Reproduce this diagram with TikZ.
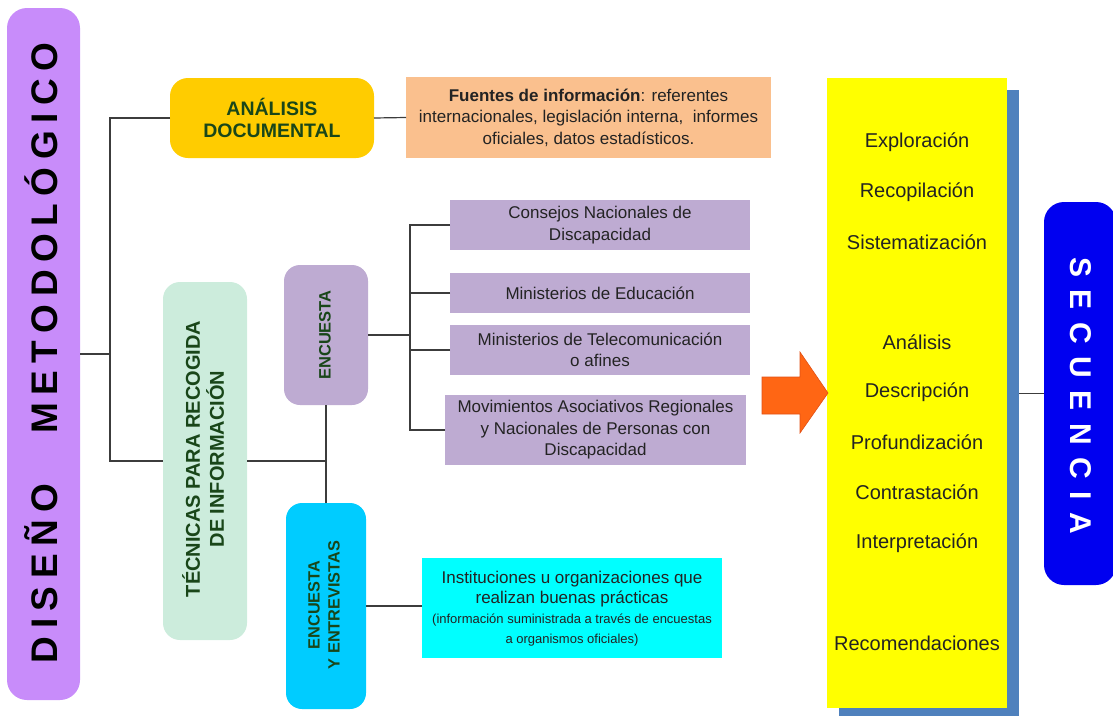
\documentclass[tikz,border=0pt]{standalone}
\usepackage{fontspec}
\setmainfont{Liberation Sans}
\definecolor{pmcol}{RGB}{200,140,250}
\definecolor{goldcol}{RGB}{255,204,0}
\definecolor{peachcol}{RGB}{250,192,142}
\definecolor{mintcol}{RGB}{204,236,220}
\definecolor{lavcol}{RGB}{190,171,210}
\definecolor{skycol}{RGB}{0,204,255}
\definecolor{cyancol}{RGB}{0,255,255}
\definecolor{yelcol}{RGB}{255,255,0}
\definecolor{shadcol}{RGB}{79,129,189}
\definecolor{arrcol}{RGB}{255,102,20}
\definecolor{arrdraw}{RGB}{225,80,20}
\definecolor{bluecol}{RGB}{0,0,240}
\definecolor{dgreen}{RGB}{25,70,25}
\definecolor{linec}{RGB}{60,60,60}
\definecolor{txtc}{RGB}{35,35,35}
\newlength\lskip
\def\myLSend{}
\def\lsloop#1{\ifx#1\myLSend\else#1\kern\lskip\expandafter\lsloop\fi}
\newcommand\smalltxt{\fontsize{13}{19}\selectfont}
\begin{document}
\begin{tikzpicture}[x=1pt,y=-1pt,
  box/.style={inner sep=0pt, outer sep=0pt},
  conn/.style={draw=linec, line width=1.2pt},
  plain/.style={text=txtc, align=center, font=\fontsize{17}{21.5}\selectfont},
  yeltxt/.style={text=txtc, font=\fontsize{20}{24}\selectfont}]
\useasboundingbox (0,0) rectangle (1113,715);

% left title
\node[box, fill=pmcol, rounded corners=20pt, minimum width=73pt, minimum height=692pt] (pm) at (43.5,354) {};
\node[rotate=90, font=\bfseries\fontsize{37}{40}\selectfont] (pmt) at (41.5,353)
  {\setlength\lskip{7.5pt}\lsloop DISEÑO\myLSend\kern42.5pt\lsloop METODOLÓGICO\myLSend\kern-\lskip};

% analisis documental
\node[box, fill=goldcol, rounded corners=18pt, minimum width=204pt, minimum height=80pt] (ad) at (272,118) {};
\node[text=dgreen, align=center, font=\bfseries\fontsize{19.5}{22.5}\selectfont] (adt) at (ad) {ANÁLISIS\\DOCUMENTAL};

\node[box, fill=peachcol, minimum width=365pt, minimum height=81pt] (fi) at (588.5,117.5) {};
\node[plain] (fit) at (fi) {\textbf{Fuentes de información}: referentes\\internacionales, legislación interna,\ \ informes\\oficiales, datos estadísticos.};

% tecnicas
\node[box, fill=mintcol, rounded corners=17pt, minimum width=84pt, minimum height=358pt] (tr) at (205,461) {};
\node[rotate=90, text=dgreen, align=center, font=\bfseries\fontsize{20}{24}\selectfont] (trt) at (203,459) {TÉCNICAS PARA RECOGIDA\\DE INFORMACIÓN};

% encuesta
\node[box, fill=lavcol, rounded corners=16pt, minimum width=84pt, minimum height=140pt] (en) at (326,335) {};
\node[rotate=90, text=dgreen, font=\bfseries\fontsize{16.5}{20}\selectfont] (ent) at (325,335) {ENCUESTA};

% encuesta y entrevistas
\node[box, fill=skycol, rounded corners=16pt, minimum width=80pt, minimum height=206pt] (ee) at (326,606) {};
\node[rotate=90, text=dgreen, align=center, font=\bfseries\fontsize{16.3}{20}\selectfont] (eet) at (324,605) {ENCUESTA\\Y ENTREVISTAS};

% encuesta targets
\node[box, fill=lavcol, minimum width=300pt, minimum height=50pt] (c1) at (600,225) {};
\node[plain] (c1t) at (c1) {Consejos Nacionales de\\Discapacidad};
\node[box, fill=lavcol, minimum width=300pt, minimum height=40pt] (c2) at (600,293) {};
\node[plain] (c2t) at (c2) {Ministerios de Educación};
\node[box, fill=lavcol, minimum width=300pt, minimum height=50pt] (c3) at (600,350) {};
\node[plain] (c3t) at (c3) {Ministerios de Telecomunicación\\o afines};
\node[box, fill=lavcol, minimum width=301pt, minimum height=70pt] (c4) at (595.5,430) {};
\node[plain] (c4t) at (c4) {Movimientos Asociativos Regionales\\y Nacionales de Personas con\\Discapacidad};

% instituciones
\node[box, fill=cyancol, minimum width=300pt, minimum height=100pt] (ins) at (572,608) {};
\node[text=txtc, align=center, font=\fontsize{17}{20}\selectfont] (inst) at (572,609) {Instituciones u organizaciones que\\realizan buenas prácticas\\\smalltxt(información suministrada a través de encuestas\\\smalltxt a organismos oficiales)};

% sequence column
\node[box, fill=shadcol, minimum width=180pt, minimum height=630pt] (ybs) at (929,405) {};
\node[box, fill=yelcol, minimum width=180pt, minimum height=630pt] (yb) at (917,393) {};
\node[yeltxt] (s1) at (917,142) {Exploración};
\node[yeltxt] (s2) at (917,192) {Recopilación};
\node[yeltxt] (s3) at (917,242) {Sistematización};
\node[yeltxt] (s4) at (917,342) {Análisis};
\node[yeltxt] (s5) at (917,392) {Descripción};
\node[yeltxt] (s6) at (917,442) {Profundización};
\node[yeltxt] (s7) at (917,492) {Contrastación};
\node[yeltxt] (s8) at (917,543) {Interpretación};
\node[yeltxt] (s9) at (917,643) {Recomendaciones};

% secuencia
\node[box, fill=bluecol, rounded corners=20pt, minimum width=72pt, minimum height=383pt] (sq) at (1080,393.5) {};
\node[rotate=-90, text=white, font=\bfseries\fontsize{30}{32}\selectfont] (sqt) at (1081,395.5)
  {\setlength\lskip{12.5pt}\lsloop SECUENCIA\myLSend\kern-\lskip};

% arrow
\fill[arrcol, draw=arrdraw, line width=0.6pt]
  (762,377) -- (800,377) -- (800,352) -- (828,393) -- (800,433) -- (800,414) -- (762,414) -- cycle;

% connectors
\coordinate (j1) at (110,354);
\draw[conn] (pm.east) -- (j1);
\draw[conn] (ad.west) -| (j1) |- (tr.west);
\draw[conn] (ad.east) -- (fi.west);
\draw[conn] (tr.east) -- (tr.east -| en.south);
\draw[conn] (en.south) -- (ee.north);
\coordinate (j2) at (410,335);
\draw[conn] (en.east) -- (j2);
\draw[conn] (c1.west) -| (j2);
\draw[conn] (c4.west) -| (j2);
\draw[conn] (c2.west) -- (c2.west -| j2);
\draw[conn] (c3.west) -- (c3.west -| j2);
\draw[conn] (ee.east) -- (ee.east -| ins.west);
\draw[conn] (sq.west -| ybs.east) -- (sq.west);
\end{tikzpicture}
\end{document}
